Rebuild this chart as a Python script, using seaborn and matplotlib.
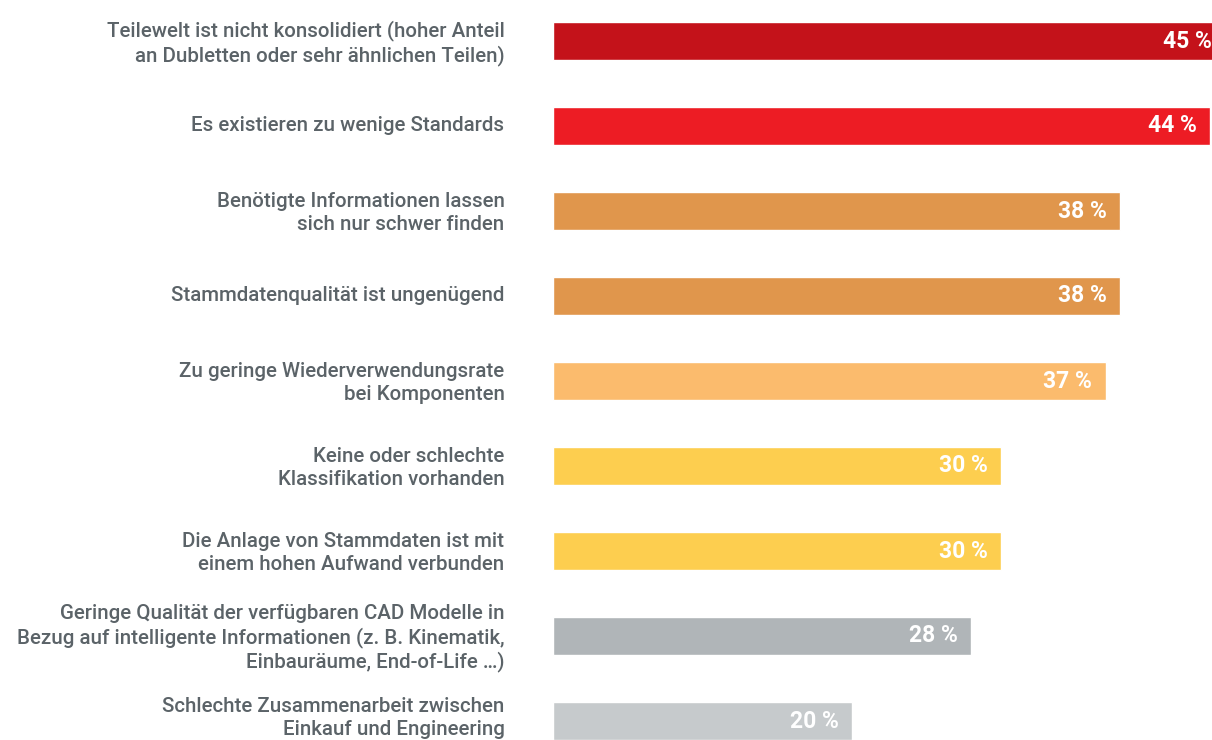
import matplotlib
matplotlib.use("Agg")
import matplotlib.pyplot as plt
import matplotlib.transforms as mtransforms
import seaborn as sns
import pandas as pd

categories = [
    "Teilewelt ist nicht konsolidiert (hoher Anteil\nan Dubletten oder sehr ähnlichen Teilen)",
    "Es existieren zu wenige Standards",
    "Benötigte Informationen lassen\nsich nur schwer finden",
    "Stammdatenqualität ist ungenügend",
    "Zu geringe Wiederverwendungsrate\nbei Komponenten",
    "Keine oder schlechte\nKlassifikation vorhanden",
    "Die Anlage von Stammdaten ist mit\neinem hohen Aufwand verbunden",
    "Geringe Qualität der verfügbaren CAD Modelle in\nBezug auf intelligente Informationen (z. B. Kinematik,\nEinbauräume, End-of-Life …)",
    "Schlechte Zusammenarbeit zwischen\nEinkauf und Engineering",
]
values = [45, 44, 38, 38, 37, 30, 30, 28, 20]
colors = ["#C4121A", "#ED1C24", "#E0964C", "#E0964C", "#FBBB6D",
          "#FDCE4F", "#FDCE4F", "#B0B5B8", "#C6CACC"]

sns.set_theme(style="white")
plt.rcParams["font.family"] = ["Roboto", "DejaVu Sans"]

df = pd.DataFrame({"cat": categories, "val": values})

W, H = 1212, 740
fig = plt.figure(figsize=(W / 100, H / 100), dpi=100)
left = 553 / W
width = 672 / W
ax = fig.add_axes([left, 0, width, 1])

sns.barplot(data=df, y="cat", x="val", hue="cat", palette=colors,
            legend=False, width=38 / 85, saturation=1, ax=ax, orient="h")

ax.set_xlim(0, 45)
ax.set_ylim((740 - 41) / 85, -41 / 85)
ax.set_xlabel("")
ax.set_ylabel("")
ax.set_xticks([])
for s in ax.spines.values():
    s.set_visible(False)

ax.tick_params(axis="y", length=0, pad=35)
ax.set_yticks(range(len(categories)))
ax.set_yticklabels(categories, fontsize=14.8, color="#5B6368",
                   linespacing=1.24, ha="right", fontweight="medium")
labels = ax.get_yticklabels()
for k, lbl in enumerate(labels):
    dy = 5 if k == len(labels) - 1 else 1.5
    shift = mtransforms.ScaledTranslation(0, dy / 72, fig.dpi_scale_trans)
    lbl.set_transform(lbl.get_transform() + shift)

for i, v in enumerate(values):
    ax.annotate(f"{v} %", xy=(v, i), xytext=(-9.5, 0),
                textcoords="offset points", ha="right", va="center",
                color="white", fontsize=16.5, fontweight="bold",
                annotation_clip=False)

fig.savefig("out.png", dpi=100)
